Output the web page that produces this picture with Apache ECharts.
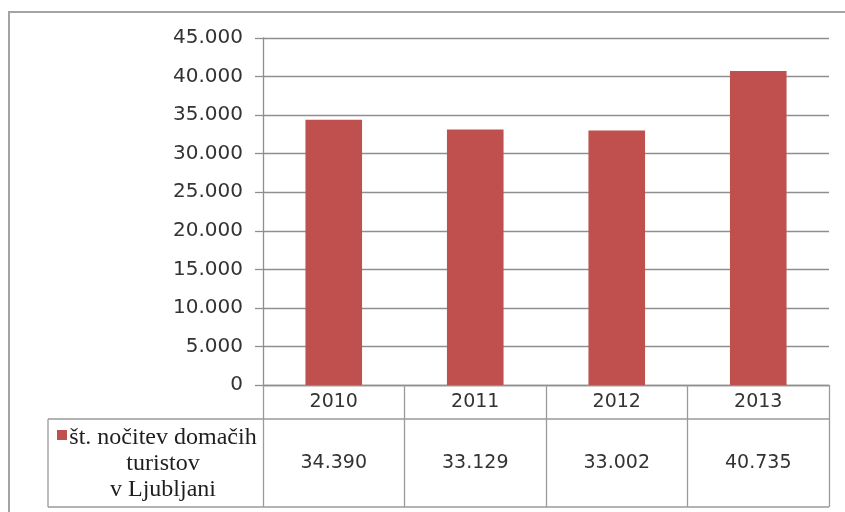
<!DOCTYPE html>
<html>
<head>
<meta charset="utf-8">
<script src="https://cdn.jsdelivr.net/npm/echarts@6/dist/echarts.min.js"></script>
<style>
  html, body { margin: 0; padding: 0; background: #fff; }
  #chart { width: 845px; height: 512px; }
</style>
</head>
<body>
<div id="chart"></div>
<script>
// Overnight stays of domestic tourists in Ljubljana, by year
const years = ['2010', '2011', '2012', '2013'];
const stays = [34390, 33129, 33002, 40735];
const seriesName = 'št. nočitev domačih\nturistov\nv Ljubljani';
const yTicks = { min: 0, max: 45000, interval: 5000 };

// Layout of the plot area and the data table underneath
const PLOT_LEFT = 263, PLOT_RIGHT = 829, PLOT_TOP = 38, AXIS_Y = 385;
const ROW_SPLIT = 419, TABLE_BOTTOM = 507, TABLE_LEFT = 48;
const W = 845, H = 512;

const LINE = '#8f8f8f';
const TABLE_LINE = '#9a9a9a';
const BAR = '#C0504D';
const NUM_FONT = '"DejaVu Sans", Verdana, sans-serif';
const NUM_COLOR = '#333';
const TEXT_FONT = '"Liberation Serif", "Times New Roman", serif';

// 45000 -> "45.000"
function fmt(n) {
  if (n < 1000) return String(n);
  return Math.floor(n / 1000) + '.' + String(n % 1000).padStart(3, '0');
}

const chart = echarts.init(document.getElementById('chart'), null, { renderer: 'canvas' });

chart.setOption({
  animation: false,
  backgroundColor: '#fff',
  grid: {
    left: PLOT_LEFT,
    right: W - PLOT_RIGHT,
    top: PLOT_TOP,
    bottom: H - AXIS_Y,
    containLabel: false
  },
  xAxis: {
    type: 'category',
    data: years,
    boundaryGap: true,
    axisLine: { show: true, lineStyle: { color: LINE, width: 1.3 } },
    // boundary ticks run down through the table as its column separators
    axisTick: {
      show: true, inside: false, length: TABLE_BOTTOM - AXIS_Y,
      lineStyle: { color: TABLE_LINE, width: 1.3 }
    },
    axisLabel: {
      margin: 0,
      formatter: (v, i) => '{y|' + v + '}\n{v|' + fmt(stays[i]) + '}',
      rich: {
        y: { fontFamily: NUM_FONT, fontSize: 19, color: NUM_COLOR, lineHeight: ROW_SPLIT - AXIS_Y, align: 'center' },
        v: { fontFamily: NUM_FONT, fontSize: 19, color: NUM_COLOR, lineHeight: TABLE_BOTTOM - ROW_SPLIT, align: 'center' }
      }
    }
  },
  yAxis: {
    type: 'value',
    min: yTicks.min,
    max: yTicks.max,
    interval: yTicks.interval,
    axisLine: { show: true, lineStyle: { color: LINE, width: 1.3 } },
    axisTick: { show: true, inside: false, length: 8, lineStyle: { color: LINE, width: 1.3 } },
    axisLabel: {
      margin: 20,
      formatter: v => fmt(v),
      fontFamily: NUM_FONT,
      fontSize: 20,
      color: NUM_COLOR
    },
    splitLine: { show: true, lineStyle: { color: LINE, width: 1.3 } }
  },
  series: [{
    name: seriesName,
    type: 'bar',
    data: stays,
    barWidth: '40%',
    itemStyle: { color: BAR }
  }],
  graphic: [
    // chart area frame
    {
      type: 'rect', silent: true,
      shape: { x: 9, y: 12, width: W + 10, height: H + 10 },
      style: { fill: 'none', stroke: '#a3a3a3', lineWidth: 2 }
    },
    // data table: row separator, bottom edge and the legend cell's left edge
    {
      type: 'line', silent: true,
      shape: { x1: TABLE_LEFT, y1: ROW_SPLIT, x2: PLOT_RIGHT, y2: ROW_SPLIT },
      style: { stroke: TABLE_LINE, lineWidth: 1.3 }
    },
    {
      type: 'line', silent: true,
      shape: { x1: TABLE_LEFT, y1: TABLE_BOTTOM, x2: PLOT_RIGHT, y2: TABLE_BOTTOM },
      style: { stroke: TABLE_LINE, lineWidth: 1.3 }
    },
    {
      type: 'line', silent: true,
      shape: { x1: TABLE_LEFT, y1: ROW_SPLIT, x2: TABLE_LEFT, y2: TABLE_BOTTOM },
      style: { stroke: TABLE_LINE, lineWidth: 1.3 }
    },
    // legend key and series name in the table's first cell
    {
      type: 'rect', silent: true,
      shape: { x: 57, y: 430, width: 10, height: 10 },
      style: { fill: BAR }
    },
    {
      type: 'text', silent: true,
      x: 163, y: 425,
      style: {
        text: seriesName,
        font: '24px ' + TEXT_FONT,
        fill: '#1e1e1e',
        align: 'center',
        verticalAlign: 'top',
        lineHeight: 26
      }
    }
  ]
});
</script>
</body>
</html>
